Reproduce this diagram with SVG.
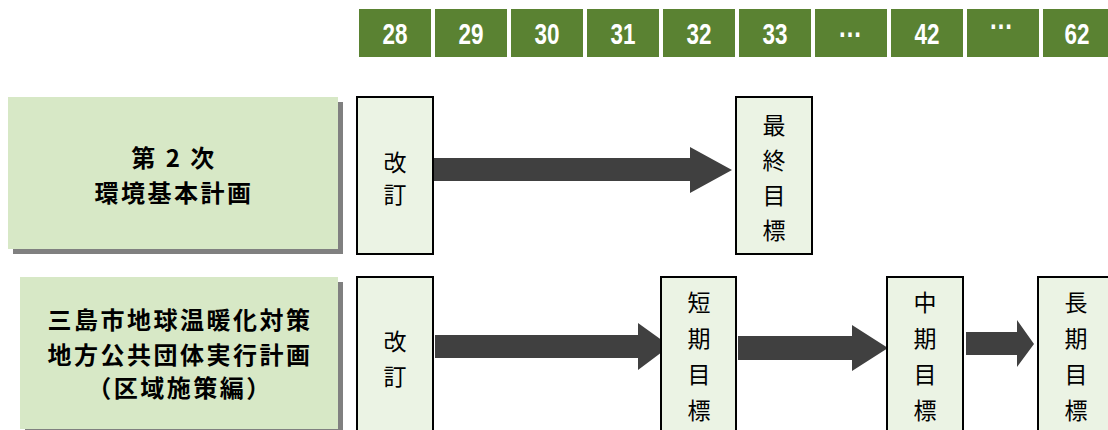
<svg xmlns="http://www.w3.org/2000/svg" width="1108" height="430" viewBox="0 0 1108 430">
<style>
.hd{fill:#5A8232}
.num{font-family:"Liberation Sans",Arial,sans-serif;font-weight:bold;font-size:30px;fill:#fff;text-anchor:middle}
.plan{fill:#D7E8C6}
.shadow{fill:#808080}
.ptxt{font-family:"Noto Sans CJK JP","Noto Sans",sans-serif;font-weight:bold;font-size:24px;fill:#000;text-anchor:middle;letter-spacing:2.5px}
.box{fill:#EBF3E4;stroke:#000;stroke-width:2}
.btxt{font-family:"Noto Sans CJK JP","Noto Sans",sans-serif;font-size:23px;fill:#000;text-anchor:middle}
.arr{fill:#404040}
</style>
<rect width="1108" height="430" fill="#fff"/>
<g id="header">
<rect class="hd" x="359" y="9" width="72" height="48"/><text class="num" x="395" y="44" textLength="25" lengthAdjust="spacingAndGlyphs">28</text>
<rect class="hd" x="435" y="9" width="72" height="48"/><text class="num" x="471" y="44" textLength="25" lengthAdjust="spacingAndGlyphs">29</text>
<rect class="hd" x="511" y="9" width="72" height="48"/><text class="num" x="547" y="44" textLength="25" lengthAdjust="spacingAndGlyphs">30</text>
<rect class="hd" x="587" y="9" width="72" height="48"/><text class="num" x="623" y="44" textLength="25" lengthAdjust="spacingAndGlyphs">31</text>
<rect class="hd" x="663" y="9" width="72" height="48"/><text class="num" x="699" y="44" textLength="25" lengthAdjust="spacingAndGlyphs">32</text>
<rect class="hd" x="739" y="9" width="72" height="48"/><text class="num" x="775" y="44" textLength="25" lengthAdjust="spacingAndGlyphs">33</text>
<rect class="hd" x="815" y="9" width="72" height="48"/><text class="num" x="850" y="37" textLength="24" lengthAdjust="spacingAndGlyphs">…</text>
<rect class="hd" x="891" y="9" width="72" height="48"/><text class="num" x="927" y="44" textLength="25" lengthAdjust="spacingAndGlyphs">42</text>
<rect class="hd" x="967" y="9" width="72" height="48"/><text class="num" x="1001" y="29" textLength="24" lengthAdjust="spacingAndGlyphs">…</text>
<rect class="hd" x="1043" y="9" width="72" height="48"/><text class="num" x="1077" y="44" textLength="25" lengthAdjust="spacingAndGlyphs">62</text>
</g>
<g id="plan1">
<rect class="shadow" x="13" y="102" width="330" height="152"/>
<rect class="plan" x="8" y="97" width="330" height="152"/>
<text class="ptxt" x="174" y="167">第 2 次</text>
<text class="ptxt" x="174" y="202">環境基本計画</text>
</g>
<g id="plan2">
<rect class="shadow" x="25" y="282" width="318" height="152"/>
<rect class="plan" x="20" y="277" width="318" height="152"/>
<text class="ptxt" x="180" y="329">三島市地球温暖化対策</text>
<text class="ptxt" x="180" y="364">地方公共団体実行計画</text>
<text class="ptxt" x="180" y="397" letter-spacing="1">（区域施策編）</text>
</g>
<g id="connectors">
<polygon class="arr" points="433,158 690,158 690,147 732,170 690,193 690,181 433,181"/>
<polygon class="arr" points="435,335 638,335 638,323 670,346 638,370 638,358 435,358"/>
<polygon class="arr" points="738,336 852,336 852,325 888,348 852,371 852,360 738,360"/>
<polygon class="arr" points="966,332 1017,332 1017,320 1034,344 1017,367 1017,355 966,355"/>
</g>
<g id="rev1">
<rect class="box" x="357" y="97" width="76" height="157"/>
<text class="btxt" x="395" y="171">改</text>
<text class="btxt" x="395" y="203">訂</text>
</g>
<g id="final">
<rect class="box" x="736" y="97" width="76" height="157"/>
<text class="btxt" x="774" y="134">最</text>
<text class="btxt" x="774" y="169">終</text>
<text class="btxt" x="774" y="204">目</text>
<text class="btxt" x="774" y="239">標</text>
</g>
<g id="rev2">
<rect class="box" x="357" y="277" width="76" height="170"/>
<text class="btxt" x="395" y="350">改</text>
<text class="btxt" x="395" y="385">訂</text>
</g>
<g id="short">
<rect class="box" x="661" y="277" width="75" height="170"/>
<text class="btxt" x="699" y="311">短</text>
<text class="btxt" x="699" y="347">期</text>
<text class="btxt" x="699" y="383">目</text>
<text class="btxt" x="699" y="419">標</text>
</g>
<g id="mid">
<rect class="box" x="887" y="277" width="76" height="170"/>
<text class="btxt" x="925" y="311">中</text>
<text class="btxt" x="925" y="347">期</text>
<text class="btxt" x="925" y="383">目</text>
<text class="btxt" x="925" y="419">標</text>
</g>
<g id="long">
<rect class="box" x="1038" y="277" width="76" height="170"/>
<text class="btxt" x="1076" y="311">長</text>
<text class="btxt" x="1076" y="347">期</text>
<text class="btxt" x="1076" y="383">目</text>
<text class="btxt" x="1076" y="419">標</text>
</g>
</svg>
